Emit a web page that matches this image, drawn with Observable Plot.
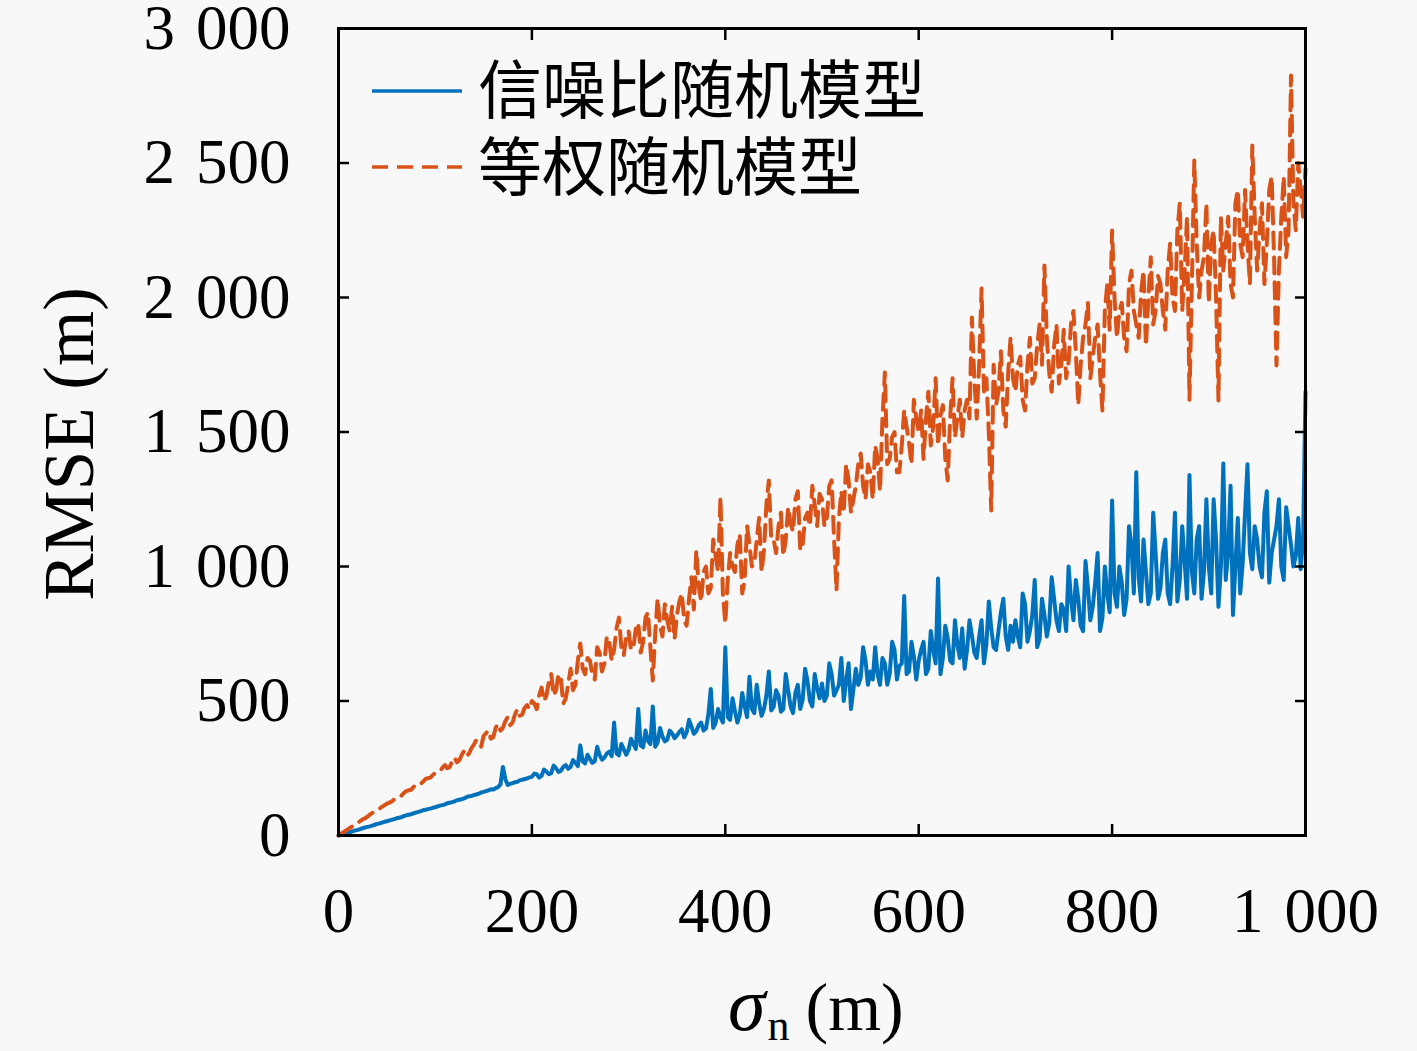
<!DOCTYPE html>
<html>
<head>
<meta charset="utf-8">
<script src="https://cdn.jsdelivr.net/npm/d3@7"></script>
<script src="https://cdn.jsdelivr.net/npm/@observablehq/plot@0.6"></script>
<style>
  html, body { margin: 0; padding: 0; background: #f8f8f8; }
  svg { display: block; }
</style>
</head>
<body>
<script>
// sigma_n (m): readings every 5 m, plus readings half-way between them
const sigma = d3.range(0, 1001, 5);
const sigmaMid = d3.range(2.5, 1000, 5);

// RMSE of SNR stochastic model (信噪比随机模型), at sigma
const rmseSNR = [
  0, 5, 11, 16, 21, 27, 32, 37, 43, 48,
  53, 58, 64, 68, 75, 79, 85, 90, 96, 100,
  105, 111, 115, 122, 127, 133, 138, 146, 150, 155,
  162, 168, 171, 180, 255, 188, 195, 200, 207, 212,
  218, 228, 222, 238, 232, 250, 241, 262, 255, 270,
  335, 268, 284, 276, 300, 290, 312, 420, 298, 322,
  318, 340, 470, 328, 352, 480, 345, 368, 356, 380,
  372, 395, 383, 405, 388, 420, 398, 545, 418, 440,
  700, 430, 462, 448, 480, 590, 455, 492, 470, 610,
  478, 520, 470, 540, 455, 560, 505, 575, 480, 548,
  565, 520, 600, 540, 660, 575, 470, 620, 585, 650,
  610, 700, 560, 640, 600, 690, 630, 890, 610, 665,
  650, 720, 620, 690, 955, 660, 735, 640, 710, 770,
  690, 745, 660, 800, 710, 770, 690, 830, 740, 780,
  800, 700, 860, 760, 950, 730, 820, 790, 880, 760,
  840, 1000, 800, 880, 760, 920, 850, 1050, 810, 900,
  1245, 850, 940, 880, 1080, 1350, 870, 980, 900, 1050,
  920, 1100, 860, 1200, 950, 1020, 1340, 900, 1150, 980,
  1000, 1250, 850, 1383, 1050, 820, 1180, 1010, 1380, 990,
  1100, 960, 1280, 1050, 1150, 1000, 1220, 1080, 1040, 990,
  1650
];
// RMSE of SNR stochastic model, at sigmaMid
const rmseSNRMid = [
  3, 8, 13, 19, 24, 30, 34, 40, 45, 51,
  56, 61, 66, 72, 77, 82, 88, 94, 98, 103,
  108, 113, 120, 124, 131, 135, 143, 147, 153, 160,
  165, 172, 176, 190, 210, 192, 198, 205, 210, 216,
  230, 215, 245, 228, 260, 236, 255, 248, 280, 258,
  275, 300, 270, 330, 282, 305, 295, 305, 340, 300,
  360, 322, 335, 390, 340, 330, 400, 350, 390, 362,
  385, 365, 430, 378, 410, 390, 450, 400, 470, 420,
  440, 510, 420, 530, 440, 470, 560, 445, 520, 465,
  540, 460, 600, 480, 530, 470, 620, 500, 600, 510,
  500, 640, 520, 560, 500, 640, 545, 560, 700, 560,
  580, 600, 660, 560, 720, 580, 640, 600, 720, 580,
  690, 600, 760, 640, 600, 780, 650, 800, 660, 620,
  800, 680, 740, 640, 870, 700, 760, 880, 690, 720,
  740, 900, 720, 820, 700, 880, 740, 960, 800, 860,
  760, 880, 950, 780, 1020, 800, 940, 760, 1000, 830,
  900, 1000, 820, 1150, 900, 960, 1100, 860, 1200, 880,
  1050, 900, 1000, 870, 1150, 880, 980, 1100, 880, 1250,
  900, 1100, 1000, 950, 1300, 1000, 900, 1200, 1050, 1150,
  1000, 1200, 940, 1100, 1250, 950, 1150, 1000, 1180, 1100
];

// RMSE of equal-weight stochastic model (等权随机模型), at sigma
const rmseEqual = [
  0, 12, 24, 35, 47, 60, 70, 84, 93, 107,
  118, 126, 142, 148, 165, 170, 188, 192, 210, 215,
  232, 240, 262, 255, 290, 280, 315, 305, 338, 348,
  370, 390, 365, 415, 400, 440, 420, 470, 450, 485,
  500, 470, 550, 520, 600, 540, 580, 510, 620, 560,
  714, 600, 650, 580, 680, 640, 720, 690, 810, 670,
  760, 700, 790, 720, 830, 576, 881, 740, 800, 850,
  820, 900, 780, 960, 1060, 870, 1000, 920, 1040, 1257,
  788, 1050, 980, 1120, 950, 1080, 1010, 1180, 1060, 1320,
  1100, 1150, 1040, 1220, 1130, 1280, 1080, 1200, 1300, 1150,
  1250, 1180, 1320, 911, 1280, 1380, 1200, 1300, 1420, 1250,
  1350, 1450, 1280, 1721, 1400, 1500, 1350, 1580, 1460, 1620,
  1500, 1400, 1650, 1520, 1450, 1600, 1320, 1700, 1550, 1480,
  1620, 1926, 1550, 2033, 1700, 1208, 1600, 1800, 1520, 1851,
  1650, 1780, 1580, 1850, 1700, 1900, 2119, 1720, 1820, 1680,
  1880, 1760, 1950, 1600, 1850, 1980, 1780, 1900, 1580, 2050,
  2249, 1850, 1980, 1800, 2100, 1900, 2020, 1820, 2150, 1950,
  2050, 1880, 2200, 1950, 2350, 2100, 1620, 2509, 2000, 2150,
  1980, 2250, 1617, 2100, 2300, 2000, 2400, 2150, 2200, 2565,
  2100, 2350, 2200, 2450, 1747, 2300, 2150, 2825, 2250, 2400,
  2480
];
// RMSE of equal-weight stochastic model, at sigmaMid
const rmseEqualMid = [
  6, 18, 30, 42, 54, 64, 78, 88, 100, 112,
  122, 134, 145, 158, 168, 180, 186, 200, 213, 225,
  236, 252, 250, 275, 272, 300, 295, 325, 355, 330,
  380, 360, 400, 390, 425, 410, 450, 445, 475, 470,
  490, 520, 500, 570, 520, 600, 490, 560, 540, 650,
  620, 660, 600, 700, 610, 740, 650, 770, 700, 740,
  690, 770, 680, 810, 700, 750, 780, 860, 760, 730,
  870, 800, 880, 840, 930, 980, 900, 1100, 980, 900,
  950, 1000, 1080, 900, 1150, 1000, 1100, 980, 1230, 1100,
  1050, 1200, 1100, 1160, 1250, 1060, 1180, 1150, 1230, 1270,
  1150, 1300, 1100, 1180, 1200, 1320, 1250, 1380, 1300, 1380,
  1250, 1400, 1550, 1380, 1480, 1350, 1450, 1520, 1380, 1550,
  1580, 1550, 1450, 1700, 1560, 1400, 1550, 1480, 1620, 1580,
  1550, 1700, 1750, 1650, 1500, 1750, 1650, 1580, 1720, 1700,
  1750, 1620, 1750, 1680, 1820, 1750, 1850, 1650, 1900, 1750,
  1700, 1900, 1800, 1750, 1900, 1700, 1850, 1720, 1950, 1880,
  2000, 1950, 1850, 2050, 1950, 1850, 2100, 2000, 1900, 2080,
  1950, 2100, 2000, 2250, 1950, 2300, 2050, 2200, 2100, 2350,
  2200, 2000, 2300, 2200, 2050, 2350, 2200, 2400, 2050, 2300,
  2250, 2050, 2400, 2150, 2100, 2450, 2250, 2350, 2500, 2300
];

const seriesNames = ["信噪比随机模型", "等权随机模型"];
const seriesColors = ["#0072BD", "#D95319"];
const dashStyle = "16,9";
const xTicks = [0, 200, 400, 600, 800, 1000];
const yTicks = [0, 500, 1000, 1500, 2000, 2500, 3000];

const fmt = d => d >= 1000 ? `${Math.floor(d / 1000)}\u2004${String(d % 1000).padStart(3, "0")}` : String(d);

function merge(xs, ys, xm, ym) {
  const out = [];
  xs.forEach((x, i) => {
    out.push({x, y: ys[i]});
    if (i < xm.length) out.push({x: xm[i], y: ym[i]});
  });
  return out;
}
const dataSNR = merge(sigma, rmseSNR, sigmaMid, rmseSNRMid);
const dataEq = merge(sigma, rmseEqual, sigmaMid, rmseEqualMid);

const W = 1417, H = 1051;
const mL = 338, mR = 112, mT = 28, mB = 216;
const serif = "'Liberation Serif', 'Times New Roman', serif";
const noText = () => "";

const chart = Plot.plot({
  width: W, height: H,
  marginLeft: mL, marginRight: mR, marginTop: mT, marginBottom: mB,
  style: {background: "#f8f8f8", fontFamily: serif, fontSize: "63px", color: "#000", overflow: "visible"},
  x: {domain: [0, 1000]},
  y: {domain: [0, 3000]},
  marks: [
    Plot.line(dataSNR, {x: "x", y: "y", stroke: seriesColors[0], strokeWidth: 4}),
    Plot.line(dataEq, {x: "x", y: "y", stroke: seriesColors[1], strokeWidth: 4, strokeDasharray: dashStyle}),
    Plot.frame({stroke: "#000", strokeWidth: 3}),
    // labels
    Plot.axisX(xTicks, {anchor: "bottom", tickSize: 0, tickPadding: 52, tickFormat: fmt, label: null, fontSize: 63}),
    Plot.axisY(yTicks, {anchor: "left", tickSize: 0, tickPadding: 48, tickFormat: fmt, label: null, fontSize: 63}),
    // inward ticks
    Plot.axisX(xTicks, {anchor: "bottom", tickSize: 11, dy: -11, tickFormat: noText, label: null, strokeWidth: 2.5}),
    Plot.axisX(xTicks, {anchor: "top", tickSize: 11, dy: 11, tickFormat: noText, label: null, strokeWidth: 2.5}),
    Plot.axisY(yTicks, {anchor: "left", tickSize: 11, dx: 11, tickFormat: noText, label: null, strokeWidth: 2.5}),
    Plot.axisY(yTicks, {anchor: "right", tickSize: 11, dx: -11, tickFormat: noText, label: null, strokeWidth: 2.5})
  ]
});

document.body.appendChild(chart);

const svg = d3.select(chart);

// y-axis title
svg.append("text")
  .attr("transform", "translate(93,444) rotate(-90)")
  .attr("text-anchor", "middle")
  .attr("font-family", serif)
  .attr("font-size", 71)
  .attr("fill", "#000")
  .text("RMSE (m)");

// x-axis title: σ_n (m)
const xt = svg.append("text")
  .attr("x", 728).attr("y", 1030)
  .attr("text-anchor", "start")
  .attr("font-family", serif)
  .attr("font-size", 68)
  .attr("fill", "#000");
xt.append("tspan").attr("font-style", "italic").attr("font-size", 76).text("σ");
xt.append("tspan").attr("font-size", 44).attr("dy", 10).attr("dx", 2).text("n");
xt.append("tspan").attr("dy", -10).attr("dx", 16).text("(m)");

// legend
const leg = svg.append("g");
const legY = [91, 167];
const legBase = [113, 190];
seriesNames.forEach((name, i) => {
  leg.append("line")
    .attr("x1", 372).attr("x2", 462)
    .attr("y1", legY[i]).attr("y2", legY[i])
    .attr("stroke", seriesColors[i])
    .attr("stroke-width", 3.5)
    .attr("stroke-dasharray", i === 1 ? dashStyle : null);
  leg.append("text")
    .attr("x", 478).attr("y", legBase[i])
    .attr("text-anchor", "start")
    .attr("font-family", "'Noto Sans CJK SC', sans-serif")
    .attr("font-size", 64)
    .attr("fill", "#000")
    .text(name);
});
</script>
</body>
</html>
